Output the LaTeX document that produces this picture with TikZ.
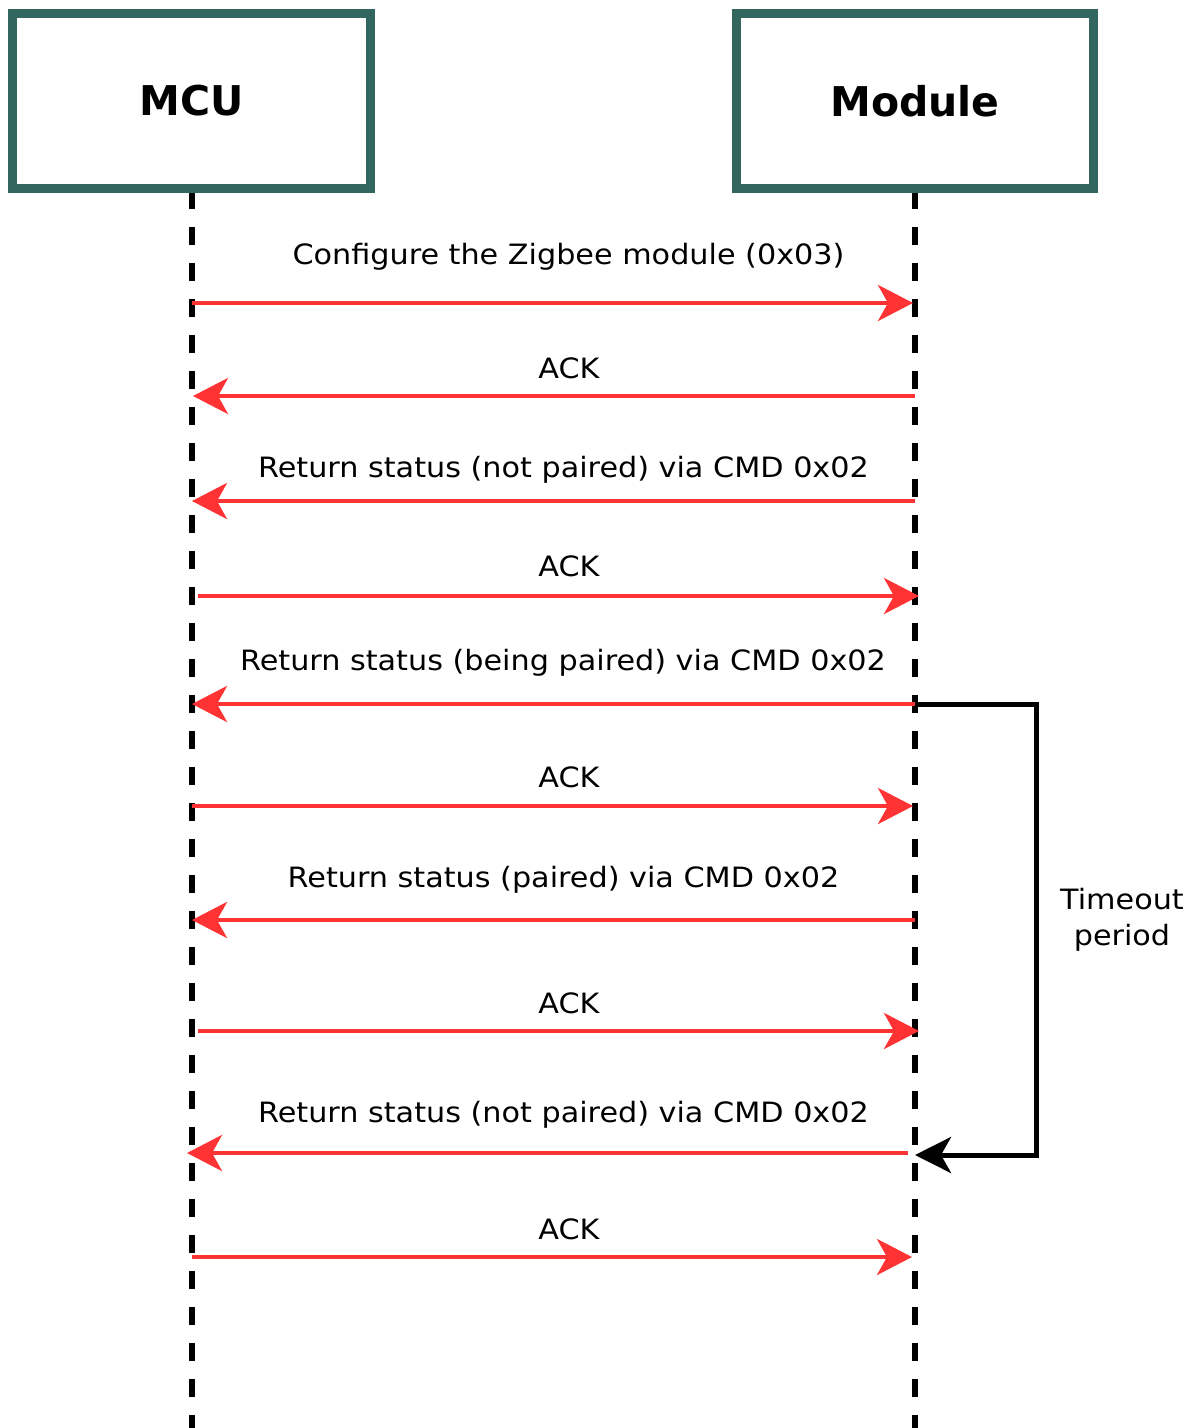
\documentclass[tikz,border=0pt]{standalone}
\usepackage{fontspec}
\setmainfont{DejaVu Sans}
\newfontfamily\msgfont{DejaVu Sans}[FakeStretch=1.08]
\newfontfamily\headfont{DejaVu Sans}
\usetikzlibrary{arrows.meta}
\definecolor{boxteal}{RGB}{51,102,94}
\definecolor{msgred}{RGB}{255,51,51}

\begin{document}
\begin{tikzpicture}[x=1pt,y=-1pt,
  actor/.style={draw=boxteal,line width=9pt,fill=white,minimum height=175pt,
    font=\headfont\bfseries\fontsize{41}{48}\selectfont},
  lifeline/.style={line width=5.5pt,dash pattern=on 18pt off 18pt,dash phase=2pt},
  msg/.style={draw=msgred,line width=4.5pt,-{Stealth[length=35pt,width=36pt,inset=10pt]}},
  msglabel/.style={font=\msgfont\fontsize{28}{36}\selectfont,anchor=base,inner sep=0pt},
  loopline/.style={draw=black,line width=5pt,-{Stealth[length=36pt,width=36pt,inset=10pt]}}]

\useasboundingbox (0,0) rectangle (1192,1428);

% participants
\node[actor,minimum width=358pt] (mcu) at (191.5,101) {MCU};
\node[actor,minimum width=357pt] (module) at (915,101) {Module};

% lifelines
\coordinate (mcuEnd) at (192,1428);
\coordinate (modEnd) at (915,1428);
\draw[lifeline] (mcu.south -| mcuEnd) -- (mcuEnd);
\draw[lifeline] (module.south) -- (modEnd);

% message end points on the lifelines
\coordinate (a1) at (192,303);  \coordinate (b1) at (913,303);
\coordinate (a2) at (193,396);  \coordinate (b2) at (915,396);
\coordinate (a3) at (192,501);  \coordinate (b3) at (915,501);
\coordinate (a4) at (198,596);  \coordinate (b4) at (919,596);
\coordinate (a5) at (192,704);  \coordinate (b5) at (915,704);
\coordinate (a6) at (192,806);  \coordinate (b6) at (913,806);
\coordinate (a7) at (192,920);  \coordinate (b7) at (915,920);
\coordinate (a8) at (198,1031); \coordinate (b8) at (919,1031);
\coordinate (a9) at (187,1153); \coordinate (b9) at (908,1153);
\coordinate (a10) at (192,1257); \coordinate (b10) at (912,1257);

% timeout loop
\coordinate (loopTop) at (1036,704);
\coordinate (loopBot) at (1036,1155);
\coordinate (loopEnd) at (915,1155);
\draw[loopline] (b5) -- (loopTop) -- (loopBot) -- (loopEnd);

% messages
\draw[msg] (a1) -- (b1);
\draw[msg] (b2) -- (a2);
\draw[msg] (b3) -- (a3);
\draw[msg] (a4) -- (b4);
\draw[msg] (b5) -- (a5);
\draw[msg] (a6) -- (b6);
\draw[msg] (b7) -- (a7);
\draw[msg] (a8) -- (b8);
\draw[msg] (b9) -- (a9);
\draw[msg] (a10) -- (b10);

% message labels
\node[msglabel] (t1) at (568.5,264.5) {Configure the Zigbee module (0x03)};
\node[msglabel] (t2) at (569,378) {ACK};
\node[msglabel] (t3) at (563.5,477.5) {Return status (not paired) via CMD 0x02};
\node[msglabel] (t4) at (569,576.5) {ACK};
\node[msglabel] (t5) at (563,670.5) {Return status (being paired) via CMD 0x02};
\node[msglabel] (t6) at (569,787.5) {ACK};
\node[msglabel] (t7) at (563.5,887.5) {Return status (paired) via CMD 0x02};
\node[msglabel] (t8) at (569,1013.5) {ACK};
\node[msglabel] (t9) at (563.5,1122.5) {Return status (not paired) via CMD 0x02};
\node[msglabel] (t10) at (569,1239.5) {ACK};

\node[font=\msgfont\fontsize{28}{36}\selectfont,align=center,inner sep=0pt] (timeout) at (1122,920) {Timeout\\period};
\end{tikzpicture}
\end{document}
